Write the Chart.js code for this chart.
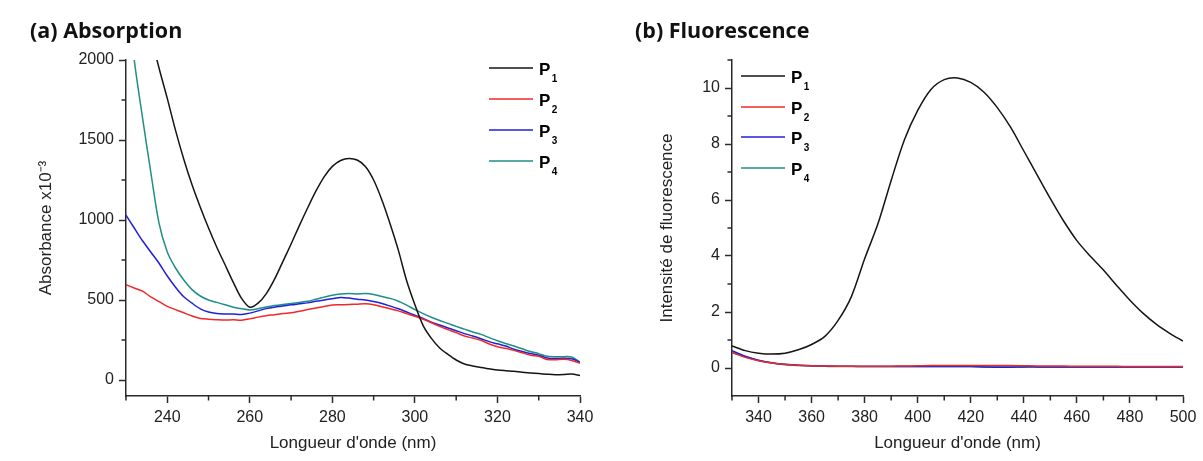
<!DOCTYPE html>
<html><head><meta charset="utf-8">
<script src="https://cdn.jsdelivr.net/npm/chart.js@4.4.0/dist/chart.umd.min.js"></script>
<style>
html,body{margin:0;padding:0;background:#fff;width:1203px;height:461px;overflow:hidden;}
#ca{position:absolute;left:0;top:0;}
#cb{position:absolute;left:600px;top:0;}
.ttl{position:absolute;font-family:"Open Sans",Lato,sans-serif;font-weight:bold;font-size:21.5px;line-height:21.5px;color:#111;white-space:nowrap;}
</style></head><body>
<canvas id="ca" width="600" height="461"></canvas>
<canvas id="cb" width="603" height="461"></canvas>
<div class="ttl" style="left:30px;top:19px">(a) Absorption</div>
<div class="ttl" style="left:635px;top:19px">(b) Fluorescence</div>
<script>
// ---------- data ----------
const seriesNames = ['P1','P2','P3','P4'];
const seriesColors = ['#151515','#f02828','#2020d8','#1f8f84'];

const absWavelengths = [230,232,234,236,238,240,242,244,246,248,250,252,254,256,258,260,262,264,266,268,270,272,274,276,278,280,282,284,286,288,290,292,294,296,298,300,302,304,306,308,310,312,314,316,318,320,322,324,326,328,330,332,334,336,338,340];
const absP1 = [3000,2700,2420,2160,1950,1760,1560,1380,1220,1080, 950,830,720,610,510,455,480,540,630,740, 850,965,1075,1180,1270,1335,1372,1385,1375,1335, 1250,1125,975,810,620,470,340,260,200,160, 125,100,88,78,70,62,58,55,48,44, 40,36,33,34,37,28];
const absP2 = [595,575,555,520,490,460,440,420,400,385, 380,377,375,376,374,382,393,402,408,415, 420,430,440,450,460,468,470,472,474,476, 470,458,445,432,415,398,380,358,335,315, 296,275,262,248,225,208,198,185,170,155, 148,128,126,129,122,104];
const absP3 = [1030,950,870,800,730,650,580,520,480,445, 425,416,413,412,410,418,432,446,455,462, 470,476,482,492,500,508,516,512,505,500, 490,478,462,445,425,405,385,362,344,325, 308,290,275,258,240,226,212,192,178,165, 155,138,134,136,133,110];
const absP4 = [2500,2000,1640,1300,980,800,700,625,565,525, 500,485,470,455,445,438,445,456,465,472, 478,485,492,505,518,530,537,540,538,540, 535,522,510,492,468,440,415,392,372,354, 335,318,300,285,265,245,228,212,195,178, 165,148,145,146,144,112];

const flWavelengths = [330,335,340,345,350,355,360,365,370,375,380,385,390,395,400,405,410,415,420,425,430,435,440,445,450,455,460,465,470,475,480,485,490,495,500];
const flP1 = [0.79,0.62,0.53,0.50,0.53, 0.65,0.84,1.13,1.7,2.55, 3.9,5.15,6.7,8.15,9.2, 9.95,10.3,10.36,10.2,9.85, 9.3,8.6,7.75,6.9,6.05, 5.25,4.55,4.0,3.5,2.95, 2.42,1.95,1.56,1.24,0.96];
const flP2 = [0.55,0.38,0.26,0.18,0.13, 0.10,0.08,0.07,0.065,0.06, 0.06,0.06,0.065,0.07,0.08, 0.09,0.09,0.09,0.09,0.09, 0.09,0.09,0.08,0.07,0.07, 0.07,0.06,0.06,0.06,0.06, 0.05,0.05,0.05,0.05,0.05];
const flP3 = [0.62,0.42,0.28,0.19,0.13, 0.10,0.08,0.07,0.06,0.06, 0.05,0.05,0.05,0.05,0.05, 0.05,0.05,0.05,0.05,0.04, 0.03,0.03,0.04,0.04,0.04, 0.04,0.04,0.04,0.04,0.04, 0.04,0.04,0.04,0.04,0.04];
const flP4 = [0.56,0.40,0.27,0.18,0.12, 0.09,0.07,0.06,0.05,0.05, 0.05,0.05,0.05,0.05,0.05, 0.05,0.05,0.05,0.05,0.04, 0.04,0.04,0.04,0.04,0.04, 0.04,0.04,0.04,0.04,0.04, 0.04,0.04,0.04,0.04,0.04];

const absXTicks = [240,260,280,300,320,340];
const absXMinor = [230,250,270,290,310,330];
const absYTicks = [0,500,1000,1500,2000];
const absYMinor = [250,750,1250,1750];
const flXTicks = [340,360,380,400,420,440,460,480,500];
const flXMinor = [330,350,370,390,410,430,450,470,490];
const flYTicks = [0,2,4,6,8,10];
const flYMinor = [1,3,5,7,9,11];

// ---------- helpers ----------
const FONT = '"Liberation Sans", Arial, sans-serif';
const AX = '#2a2a2a';

const decor = {
  id: 'decor',
  afterDraw(chart, args, o) {
    const ctx = chart.ctx, xs = chart.scales.x, ys = chart.scales.y;
    ctx.save();
    ctx.strokeStyle = AX; ctx.lineWidth = 1.5;
    ctx.beginPath();
    o.xMinor.forEach(v => { const p = xs.getPixelForValue(v); ctx.moveTo(p, xs.top); ctx.lineTo(p, xs.top + 4.5); });
    o.yMinor.forEach(v => { const p = ys.getPixelForValue(v); ctx.moveTo(ys.right, p); ctx.lineTo(ys.right - 4.5, p); });
    ctx.stroke();
    chart.data.datasets.forEach((ds, i) => {
      const y = o.legendY[i], x = o.legendX;
      ctx.strokeStyle = ds.borderColor; ctx.lineWidth = 1.6;
      ctx.beginPath(); ctx.moveTo(x, y); ctx.lineTo(x + 44, y); ctx.stroke();
      ctx.fillStyle = '#000'; ctx.textBaseline = 'alphabetic'; ctx.textAlign = 'left';
      const main = ds.label[0], sub = ds.label.slice(1);
      ctx.font = 'bold 17px ' + FONT;
      ctx.fillText(main, x + 50, y + 7);
      const w = ctx.measureText(main).width;
      ctx.font = 'bold 10px ' + FONT;
      ctx.fillText(sub, x + 50 + w + 1.5, y + 13.5);
    });
    ctx.restore();
  }
};

function makeDatasets(xs, ys) {
  return ys.map((arr, i) => ({
    label: seriesNames[i],
    data: xs.map((w, j) => ({ x: w, y: arr[j] })),
    borderColor: seriesColors[i],
    borderWidth: 1.5,
    pointRadius: 0,
    tension: 0.3,
    fill: false
  }));
}

function axisX(min, max, ticks, title) {
  return {
    type: 'linear', min, max,
    afterBuildTicks: s => { s.ticks = ticks.map(v => ({ value: v })); },
    afterFit: s => { s.height = 65; },
    border: { display: true, color: AX, width: 1.5 },
    grid: { display: true, drawOnChartArea: false, drawTicks: true, tickLength: 7, tickColor: AX, tickWidth: 1.5 },
    ticks: { color: '#222', font: { family: FONT, size: 16 }, padding: 5, maxRotation: 0, autoSkip: false, callback: v => String(v) },
    title: { display: true, text: title, color: '#222', font: { family: FONT, size: 17 }, padding: { top: 0, bottom: 7 } }
  };
}
function axisY(min, max, ticks, title, width, tpad) {
  return {
    type: 'linear', min, max,
    afterBuildTicks: s => { s.ticks = ticks.map(v => ({ value: v })); },
    afterFit: s => { s.width = width; },
    border: { display: true, color: AX, width: 1.5 },
    grid: { display: true, drawOnChartArea: false, drawTicks: true, tickLength: 7, tickColor: AX, tickWidth: 1.5 },
    ticks: { color: '#222', font: { family: FONT, size: 16 }, padding: 5, autoSkip: false, callback: v => String(v) },
    title: { display: true, text: title, color: '#222', font: { family: FONT, size: 17 }, padding: { top: tpad, bottom: 0 } }
  };
}

function common(scales, decorOpts) {
  return {
    responsive: false, animation: false, devicePixelRatio: 1,
    layout: { padding: { left: 0, top: 60, right: 20, bottom: 0 } },
    plugins: { legend: { display: false }, tooltip: { enabled: false }, decor: decorOpts },
    scales
  };
}

new Chart(document.getElementById('ca'), {
  type: 'line',
  data: { datasets: makeDatasets(absWavelengths, [absP1, absP2, absP3, absP4]) },
  options: common({
    x: axisX(230, 340, absXTicks, "Longueur d'onde (nm)"),
    y: axisY(-100, 2000, absYTicks, 'Absorbance x10\u207B\u00B3', 126, 36)
  }, { xMinor: absXMinor, yMinor: absYMinor, legendX: 489, legendY: [68, 99, 130, 161] }),
  plugins: [decor]
});

new Chart(document.getElementById('cb'), {
  type: 'line',
  data: { datasets: makeDatasets(flWavelengths, [flP1, flP2, flP3, flP4]) },
  options: common({
    x: axisX(330, 500, flXTicks, "Longueur d'onde (nm)"),
    y: axisY(-1, 11, flYTicks, 'Intensité de fluorescence', 132, 57)
  }, { xMinor: flXMinor, yMinor: flYMinor, legendX: 141, legendY: [76, 107, 137, 168] }),
  plugins: [decor]
});
</script>
</body></html>
